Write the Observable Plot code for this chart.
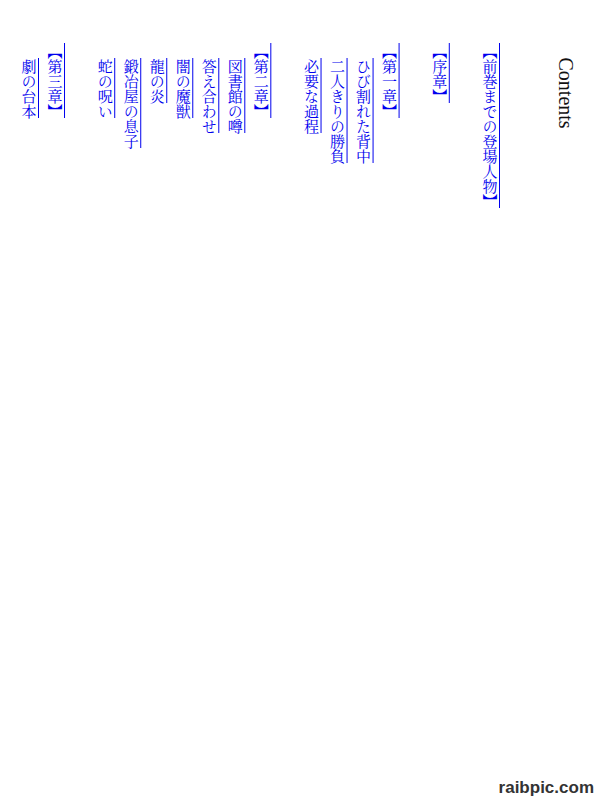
<!DOCTYPE html>
<html>
<head>
<meta charset="utf-8">
<script src="https://cdn.jsdelivr.net/npm/d3@7"></script>
<script src="https://cdn.jsdelivr.net/npm/@observablehq/plot@0.6"></script>
<style>
  html, body { margin: 0; padding: 0; background: #fff; }
  #wrap { position: relative; width: 600px; height: 800px; }
  #mark { position: absolute; right: 6px; bottom: 2px; font: bold 17px "Liberation Sans", Arial, sans-serif; color: #333; }
</style>
</head>
<body>
<div id="wrap">
  <div id="chart"></div>
  <div id="mark">raibpic.com</div>
</div>
<script>
// Title
const title = ["Contents"];
// Table of contents entries (right to left columns)
const labels = [
  "【前巻までの登場人物】",
  "【序章】",
  "【第一章】",
  "ひび割れた背中",
  "二人きりの勝負",
  "必要な過程",
  "【第二章】",
  "図書館の噂",
  "答え合わせ",
  "闇の魔獣",
  "龍の炎",
  "鍛冶屋の息子",
  "蛇の呪い",
  "【第三章】",
  "劇の台本"
];
const kinds = [
  "heading", "heading", "heading", "item", "item", "item",
  "heading", "item", "item", "item", "item", "item", "item",
  "heading", "item"
];

const headingGap = 0.93;
let pos = 0;
const rows = labels.map((label, i) => {
  if (i > 0) pos += 1 + (kinds[i] === "heading" ? headingGap : 0);
  const start = kinds[i] === "heading" ? 0 : 1;
  const len = [...label].length;
  return {label, kind: kinds[i], pos, start, end: start + len};
});
const maxPos = pos;

const serif = "'Liberation Serif', 'Noto Serif CJK JP', 'Times New Roman', serif";
const blue = "#0000ee";

const svg = Plot.plot({
  width: 600,
  height: 800,
  margin: 0,
  x: {type: "linear", domain: [0, maxPos], range: [499, 38], axis: null},
  y: {type: "linear", domain: [0, 11], range: [43, 43 + 165], axis: null},
  marks: [
    Plot.ruleX(rows, {x: "pos", y1: "start", y2: "end", stroke: blue, strokeWidth: 1}),
    Plot.text(rows, {
      x: "pos", y: "start", text: "label", dx: -11,
      fill: blue, fontSize: 15, fontFamily: serif, textAnchor: "start", lineAnchor: "top"
    }),
    Plot.text(title, {
      frameAnchor: "top-right", dx: -35, dy: 57, text: d => d,
      fill: "#111", fontSize: 20, fontFamily: serif, textAnchor: "start", lineAnchor: "top"
    })
  ]
});

d3.select(svg).selectAll("text")
  .attr("dy", null)
  .attr("y", 0)
  .style("writing-mode", "vertical-rl");

document.getElementById("chart").appendChild(svg);
</script>
</body>
</html>
